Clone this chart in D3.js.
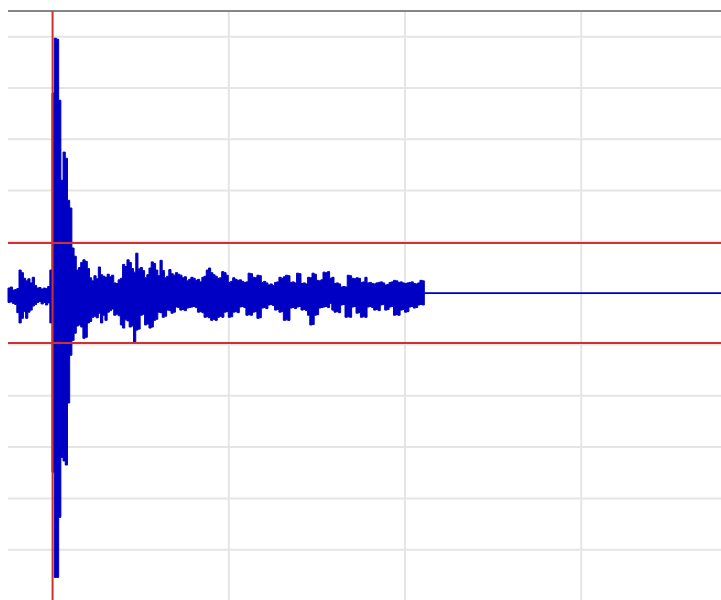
<!DOCTYPE html>
<html>
<head>
<meta charset="utf-8">
<script src="https://cdn.jsdelivr.net/npm/d3@7"></script>
<style>
  body { margin: 0; background: #fff; }
  svg { display: block; }
</style>
</head>
<body>
<div id="chart"></div>
<script>
// trace kept as min / max per bin (decimated seismogram), amplitude in counts
const startTime = -2.53;   // s, first bin
const binSize = 0.125;     // s per bin

const upperEnv = [
  10, 12, 6, 7, 9, 45, 40, 29, 24, 28,
  20, 31, 15, 10, 11, 8, 10, 9, 13, 45,
  390, 497, 495, 376, 220, 275, 263, 181, 166, 88,
  72, 45, 50, 60, 65, 62, 48, 30, 24, 34,
  28, 51, 36, 33, 31, 37, 32, 35, 20, 19,
  26, 29, 56, 52, 65, 60, 48, 41, 78, 47,
  50, 44, 30, 36, 49, 61, 58, 45, 34, 64,
  44, 30, 33, 46, 38, 35, 40, 37, 35, 30,
  32, 24, 27, 31, 29, 25, 27, 22, 31, 33,
  45, 49, 40, 36, 33, 29, 30, 42, 40, 35,
  21, 23, 30, 27, 25, 26, 23, 21, 22, 39,
  38, 31, 30, 35, 34, 21, 23, 20, 16, 18,
  15, 21, 22, 31, 29, 32, 35, 34, 21, 22,
  20, 39, 38, 19, 20, 18, 31, 30, 39, 37,
  25, 24, 26, 41, 40, 42, 29, 31, 19, 20,
  18, 12, 13, 12, 35, 34, 29, 28, 30, 29,
  21, 22, 31, 20, 21, 19, 18, 20, 21, 22,
  20, 16, 17, 21, 22, 25, 24, 21, 22, 20,
  19, 20, 21, 22, 19, 18, 20, 25, 24
];

const lowerEnv = [
  -18, -17, -20, -22, -38, -58, -49, -36, -49, -37,
  -33, -25, -22, -18, -16, -21, -18, -23, -19, -58,
  -349, -554, -554, -437, -320, -327, -335, -214, -121, -92,
  -78, -64, -62, -66, -88, -86, -58, -55, -47, -45,
  -48, -39, -58, -43, -53, -37, -34, -31, -43, -41,
  -44, -62, -68, -52, -54, -66, -64, -96, -72, -70,
  -43, -41, -62, -60, -68, -66, -53, -51, -37, -38,
  -47, -45, -33, -34, -39, -37, -27, -28, -33, -32,
  -34, -29, -28, -27, -26, -28, -37, -36, -38, -47,
  -46, -48, -53, -51, -53, -47, -45, -47, -37, -36,
  -47, -46, -37, -36, -38, -27, -26, -28, -43, -42,
  -43, -37, -36, -49, -48, -29, -28, -30, -23, -22,
  -24, -33, -32, -37, -36, -53, -52, -53, -29, -28,
  -30, -27, -26, -33, -32, -34, -43, -62, -61, -43,
  -42, -29, -28, -27, -26, -28, -20, -33, -37, -36,
  -38, -23, -22, -47, -46, -47, -27, -26, -39, -38,
  -47, -46, -47, -27, -26, -28, -33, -32, -34, -23,
  -22, -33, -32, -27, -26, -43, -42, -43, -33, -32,
  -37, -36, -27, -26, -29, -28, -23, -22, -23
];

const timeTicks = [10, 20, 30];
const ampTicks = [-500, -400, -300, -200, -100, 0, 100, 200, 300, 400, 500];
const triggerTimes = [0];
const thresholds = [98, -97];

const width = 721, height = 600;

let svg = d3.select('#chart').append('svg')
    .attr('width', width)
    .attr('height', height);

const xScale = d3.scaleLinear()
    .domain([-2.53, 37.93])
    .range([8, 721]);

const yScale = d3.scaleLinear()
    .domain([-600, 550])
    .range([601, 11]);

const [xL, xR] = xScale.range();
const yTop = yScale(550);

// grid lines
svg.append('g').selectAll('line')
    .data(ampTicks)
    .join('line')
    .attr('x1', xL).attr('x2', xR)
    .attr('y1', d => yScale(d)).attr('y2', d => yScale(d))
    .attr('stroke', '#e5e5e5')
    .attr('stroke-width', 2);

svg.append('g').selectAll('line')
    .data(timeTicks)
    .join('line')
    .attr('x1', d => xScale(d)).attr('x2', d => xScale(d))
    .attr('y1', yTop).attr('y2', height)
    .attr('stroke', '#e5e5e5')
    .attr('stroke-width', 2);

// top frame line
svg.append('line')
    .attr('x1', xL).attr('x2', xR)
    .attr('y1', yTop).attr('y2', yTop)
    .attr('stroke', '#858585')
    .attr('stroke-width', 2);

// build bins
let bins = upperEnv.map((u, i) => ({t: startTime + i * binSize, hi: u, lo: lowerEnv[i]}));
const endTime = startTime + upperEnv.length * binSize;
bins.push({t: endTime, hi: upperEnv[upperEnv.length - 1], lo: lowerEnv[lowerEnv.length - 1]});

const area = d3.area()
    .curve(d3.curveStepAfter)
    .x(d => xScale(d.t))
    .y0(d => yScale(d.lo))
    .y1(d => yScale(d.hi));

svg.append('path')
    .datum(bins)
    .attr('d', area)
    .attr('fill', '#0000c4')
    .attr('stroke', '#0000c4')
    .attr('stroke-width', 1);

// trace is flat after the record ends
svg.append('line')
    .attr('x1', xScale(endTime)).attr('x2', xR)
    .attr('y1', yScale(0)).attr('y2', yScale(0))
    .attr('stroke', '#0000c4')
    .attr('stroke-width', 1.6);

// trigger thresholds and pick
svg.append('g').selectAll('line')
    .data(thresholds)
    .join('line')
    .attr('x1', xL).attr('x2', xR)
    .attr('y1', d => yScale(d)).attr('y2', d => yScale(d))
    .attr('stroke', '#cf3030')
    .attr('stroke-width', 2);

svg.append('g').selectAll('line')
    .data(triggerTimes)
    .join('line')
    .attr('x1', d => xScale(d)).attr('x2', d => xScale(d))
    .attr('y1', yTop).attr('y2', height)
    .attr('stroke', '#cf3030')
    .attr('stroke-width', 2);
</script>
</body>
</html>
